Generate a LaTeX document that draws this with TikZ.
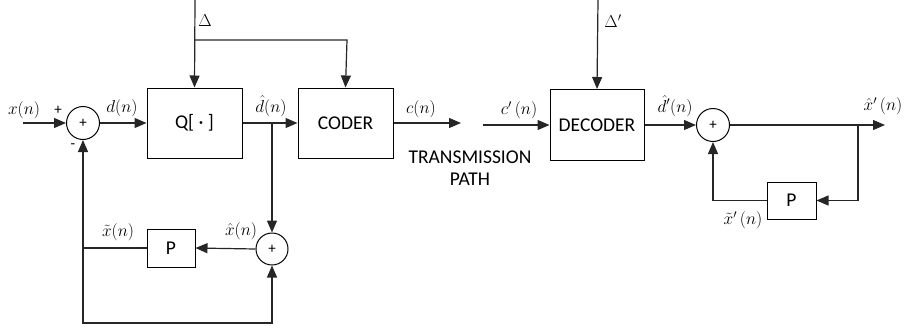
\documentclass[tikz,border=0pt]{standalone}
\usepackage{fontspec}
\setmainfont{Carlito}
\usetikzlibrary{arrows.meta}
\begin{document}
\begin{tikzpicture}[x=1pt,y=-1pt,
  font=\fontsize{19.5}{22}\selectfont,
  blk/.style={draw=black,line width=1pt,minimum width=#1,inner sep=0pt},
  sumnode/.style={draw=black,line width=1pt,circle,minimum size=33pt,inner sep=0pt,font=\fontsize{15}{16}\selectfont},
  sig/.style={line width=1.2pt,draw=black!85},
  arr/.style={sig,-{Triangle[length=12pt,width=10pt]}},
  lbl/.style={inner sep=0pt,font=\fontsize{18}{20}\selectfont}]
\useasboundingbox (0,0) rectangle (913,327);

% ---------------- encoder ----------------
\node[sumnode] (s1) at (83,123) {+};
\node[blk=95pt,minimum height=70pt] (q) at (194.5,123) {Q[ · ]};
\node[blk=95pt,minimum height=70pt] (coder) at (345.5,123) {CODER};
\node[sumnode,minimum size=32pt] (s2) at (272,249) {+};
\node[blk=48pt,minimum height=38pt] (p1) at (171,248) {P};

\coordinate (xin) at (23,123);
\coordinate (dtop) at (195,0);
\coordinate (dbr) at (195,40);
\coordinate (dcr) at (347,40);
\coordinate (br1) at (272,123);
\coordinate (cout) at (461,123);
\coordinate (fbl) at (83,248);
\coordinate (bl) at (83,323);
\coordinate (br) at (272,323);

\draw[arr] (xin) -- (s1.west);
\draw[arr] (s1.east) -- (q.west);
\draw[arr] (q.east) -- (coder.west);
\draw[arr] (dtop) -- (q.north);
\draw[arr] (dbr) -- (dcr) -- (coder.north);
\draw[arr] (coder.east) -- (cout);
\draw[arr] (br1) -- (s2.north);
\draw[arr] (s2.west) -- (p1.east);
\draw[arr] (p1.west) -- (fbl) -- (s1.south);
\draw[arr] (fbl) -- (bl) -- (br) -- (s2.south);

\node[lbl] at (24,110) {$x(n)$};
\node[lbl,font=\fontsize{15}{16}\selectfont] at (58,110) {+};
\node[lbl,font=\fontsize{15}{16}\selectfont] at (73,146) {-};
\node[lbl] at (122,108) {$d(n)$};
\node[lbl] at (271,106) {$\hat{d}(n)$};
\node[lbl] at (421,109) {$c(n)$};
\node[lbl] at (205,21) {$\Delta$};
\node[lbl] at (118,232) {$\tilde{x}(n)$};
\node[lbl] at (241,231) {$\hat{x}(n)$};
\node[align=center,inner sep=0pt] at (470,168) {TRANSMISSION\\PATH};

% ---------------- decoder ----------------
\node[blk=94pt,minimum height=71pt] (dec) at (597,125) {DECODER};
\node[sumnode] (s3) at (713,125) {+};
\node[blk=49pt,minimum height=37pt] (p2) at (791.5,200.5) {P};

\coordinate (cin) at (483,125);
\coordinate (dptop) at (598,0);
\coordinate (xout) at (885,125);
\coordinate (br2) at (858,125);
\coordinate (rc) at (858,200.5);
\coordinate (lc) at (713,200.5);

\draw[arr] (cin) -- (dec.west);
\draw[arr] (dptop) -- (dec.north);
\draw[arr] (dec.east) -- (s3.west);
\draw[arr] (s3.east) -- (xout);
\draw[arr] (br2) -- (rc) -- (p2.east);
\draw[arr] (p2.west) -- (lc) -- (s3.south);

\node[lbl] at (519,110) {$c^{\prime}\,(n)$};
\node[lbl] at (613,21) {$\Delta'$};
\node[lbl] at (675,106) {$\hat{d}'(n)$};
\node[lbl] at (883,106) {$\hat{x}^{\prime}\,(n)$};
\node[lbl] at (743,220) {$\tilde{x}^{\prime}\,(n)$};
\end{tikzpicture}
\end{document}
